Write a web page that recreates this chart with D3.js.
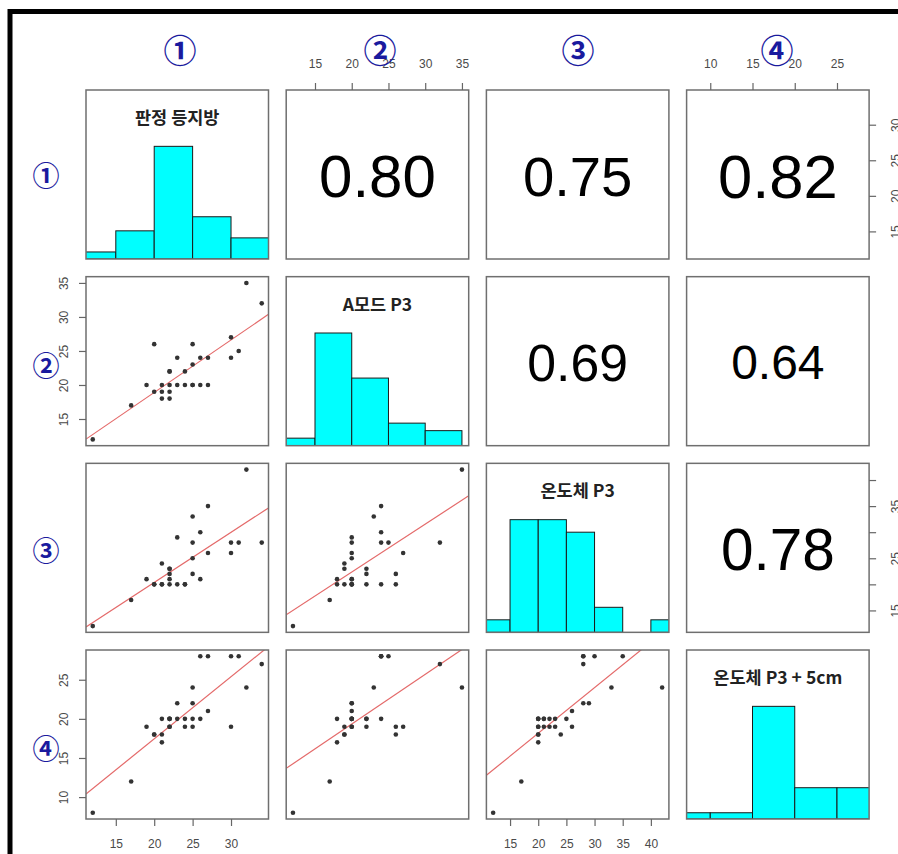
<!DOCTYPE html>
<html>
<head>
<meta charset="utf-8">
<script src="https://cdn.jsdelivr.net/npm/d3@7"></script>
<style>
  body { margin: 0; background: #fff; }
  svg { display: block; }
</style>
</head>
<body>
<svg id="chart" width="898" height="854"></svg>
<script>
// Variable names (diagonal titles) and circled index labels
const varNames = ["판정 등지방", "A모드 P3", "온도체 P3", "온도체 P3 + 5cm"];
const indexLabels = ["①", "②", "③", "④"];

// Observations (30 carcasses), one array per measurement
const fat      = [12,17,32,34,27,25,31,26,30,23,25,27,21,20,21,20,19,21,30,26,23,24,24,25,25,22,22,22,22,22];
const amode    = [12,17,35,32,24,23,25,24,24,20,20,20,18,26,19,19,20,20,27,20,24,22,20,26,20,22,22,20,19,18];
const carcass  = [12,17,42,28,35,33,28,30,28,29,28,26,20,20,24,20,21,20,26,21,20,20,20,22,25,22,23,20,23,21];
const carcass5 = [ 8,12,24,27,28,24,28,28,28,22,22,21,17,18,18,18,19,20,19,20,20,19,20,19,20,20,20,19,19,20];

// Histogram breaks
const fatBreaks      = [10,15,20,25,30,35];
const amodeBreaks    = [10,15,20,25,30,35];
const carcassBreaks  = [10,15,20,25,30,35,40,45];
const carcass5Breaks = [5,10,15,20,25,30];

// Axis tick values
const fatTicks      = [15,20,25,30];
const amodeTicks    = [15,20,25,30,35];
const carcassTicks  = [15,20,25,30,35,40];
const carcass5Ticks = [10,15,20,25];
const carcassSideLabels = [15,25,35];

// Correlation coefficients shown in the upper panels: [row, col, r]
const corrRows = [0,0,0,1,1,2];
const corrCols = [1,2,3,2,3,3];
const corrValues = [0.80,0.75,0.82,0.69,0.64,0.78];

const vars = [fat, amode, carcass, carcass5];
const breaks = [fatBreaks, amodeBreaks, carcassBreaks, carcass5Breaks];
const ticks = [fatTicks, amodeTicks, carcassTicks, carcass5Ticks];

// Layout of the 4x4 grid
const L0 = 86, T0 = 90, PW = 182.5, PH = 169, DX = 200.2, DY = 186.67;
const colX = i => L0 + i * DX;
const rowY = j => T0 + j * DY;

const svg = d3.select("#chart");
const defs = svg.append("defs");

function padded(v) {
  const [a, b] = d3.extent(v);
  const r = b - a;
  return [a - 0.04 * r, b + 0.04 * r];
}
const xs = vars.map((v, i) => d3.scaleLinear().domain(padded(v)).range([colX(i), colX(i) + PW]));
const ys = vars.map((v, j) => d3.scaleLinear().domain(padded(v)).range([rowY(j) + PH, rowY(j)]));

// Outer frame
svg.append("rect")
  .attr("x", 10).attr("y", 11.5)
  .attr("width", 920).attr("height", 900)
  .attr("fill", "none").attr("stroke", "#000").attr("stroke-width", 5);

// Right-closed histogram counts (first bin includes its lower edge)
function histCounts(values, br) {
  return br.slice(0, -1).map((b, k) =>
    values.filter(v => (k === 0 ? v >= b : v > b) && v <= br[k + 1]).length);
}

// Least-squares line y = a + b x
function lsFit(x, y) {
  const mx = d3.mean(x), my = d3.mean(y);
  let sxy = 0, sxx = 0;
  x.forEach((xi, k) => { sxy += (xi - mx) * (y[k] - my); sxx += (xi - mx) ** 2; });
  const b = sxy / sxx;
  return { a: my - b * mx, b };
}

for (let j = 0; j < 4; j++) {
  for (let i = 0; i < 4; i++) {
    const x0 = colX(i), y0 = rowY(j);
    const clipId = `clip-${j}-${i}`;
    defs.append("clipPath").attr("id", clipId)
      .append("rect").attr("x", x0).attr("y", y0).attr("width", PW).attr("height", PH);
    const g = svg.append("g");
    const inner = g.append("g").attr("clip-path", `url(#${clipId})`);

    if (i === j) {
      // Histogram on the diagonal
      const counts = histCounts(vars[i], breaks[i]);
      const maxC = d3.max(counts);
      const yh = d3.scaleLinear().domain([0, 1.5]).range([y0 + PH, y0]);
      const bins = counts.map((c, k) => ({ c, lo: breaks[i][k], hi: breaks[i][k + 1] }));
      inner.selectAll("rect.bar").data(bins).join("rect")
        .attr("class", "bar")
        .attr("x", d => xs[i](d.lo))
        .attr("width", d => xs[i](d.hi) - xs[i](d.lo))
        .attr("y", d => yh(d.c / maxC))
        .attr("height", d => yh(0) - yh(d.c / maxC))
        .attr("fill", "#00ffff")
        .attr("stroke", "#1a1a1a")
        .attr("stroke-width", 1);
      g.append("text")
        .attr("x", x0 + PW / 2).attr("y", y0 + 26.5)
        .attr("text-anchor", "middle").attr("dominant-baseline", "central")
        .attr("font-family", "'Noto Sans CJK KR', sans-serif")
        .attr("font-weight", "bold").attr("font-size", 17.5)
        .attr("fill", "#222")
        .text(varNames[i]);
    } else if (j > i) {
      // Scatter plot with fitted line below the diagonal
      const xv = vars[i], yv = vars[j];
      const fit = lsFit(xv, yv);
      const [d0, d1] = xs[i].domain();
      inner.append("line")
        .attr("x1", xs[i](d0)).attr("y1", ys[j](fit.a + fit.b * d0))
        .attr("x2", xs[i](d1)).attr("y2", ys[j](fit.a + fit.b * d1))
        .attr("stroke", "#e46a6a").attr("stroke-width", 1.2);
      inner.selectAll("circle").data(xv.map((v, k) => [v, yv[k]])).join("circle")
        .attr("cx", d => xs[i](d[0])).attr("cy", d => ys[j](d[1]))
        .attr("r", 2.3).attr("fill", "#333");
    }

    // Panel border
    g.append("rect")
      .attr("x", x0).attr("y", y0).attr("width", PW).attr("height", PH)
      .attr("fill", "none").attr("stroke", "#6f6f6f").attr("stroke-width", 1.5);
  }
}

// Correlation coefficients, sized in proportion to r
corrValues.forEach((r, k) => {
  const j = corrRows[k], i = corrCols[k];
  const fs = 75 * r;
  svg.append("text")
    .attr("x", colX(i) + PW / 2)
    .attr("y", rowY(j) + PH / 2 + 0.716 * fs / 2 + 1)
    .attr("text-anchor", "middle")
    .attr("font-family", "'Liberation Sans', Arial, sans-serif")
    .attr("font-size", fs)
    .attr("fill", "#000")
    .text(r.toFixed(2));
});

// Axes
function styleAxis(sel) {
  sel.select(".domain").remove();
  sel.selectAll(".tick line").attr("stroke", "#666").attr("stroke-width", 1.2);
  sel.selectAll(".tick text")
    .attr("fill", "#4a4a4a")
    .attr("font-family", "'Liberation Sans', Arial, sans-serif")
    .attr("font-size", 12);
}

// top: columns 2 and 4
[1, 3].forEach(i => {
  svg.append("g").attr("transform", `translate(0,${T0})`)
    .call(d3.axisTop(xs[i]).tickValues(ticks[i]).tickSize(7).tickPadding(15).tickFormat(d3.format("d")))
    .call(styleAxis);
});
// bottom: columns 1 and 3
[0, 2].forEach(i => {
  svg.append("g").attr("transform", `translate(0,${rowY(3) + PH})`)
    .call(d3.axisBottom(xs[i]).tickValues(ticks[i]).tickSize(7).tickPadding(13).tickFormat(d3.format("d")))
    .call(styleAxis);
});
// left: rows 2 and 4
[1, 3].forEach(j => {
  svg.append("g").attr("transform", `translate(${L0},0)`)
    .call(d3.axisLeft(ys[j]).tickValues(ticks[j]).tickSize(7).tickFormat(d3.format("d")))
    .call(styleAxis)
    .selectAll(".tick text")
    .attr("transform", "rotate(-90)")
    .attr("x", 0).attr("y", -22).attr("dy", null)
    .attr("text-anchor", "middle").attr("dominant-baseline", "central");
});
// right: rows 1 and 3
[0, 2].forEach(j => {
  const fmt = j === 2 ? (d => carcassSideLabels.includes(d) ? d : "") : d3.format("d");
  svg.append("g").attr("transform", `translate(${colX(3) + PW},0)`)
    .call(d3.axisRight(ys[j]).tickValues(ticks[j]).tickSize(7).tickFormat(fmt))
    .call(styleAxis)
    .selectAll(".tick text")
    .attr("transform", "rotate(-90)")
    .attr("x", 0).attr("y", 27).attr("dy", null)
    .attr("text-anchor", "middle").attr("dominant-baseline", "central");
});

// Circled index labels for columns and rows
const colLabelX = [180, 380, 578, 777];
indexLabels.forEach((t, i) => {
  svg.append("text")
    .attr("x", colLabelX[i]).attr("y", 49)
    .attr("text-anchor", "middle").attr("dominant-baseline", "central")
    .attr("font-family", "'Noto Sans CJK KR', sans-serif")
    .attr("font-weight", "bold")
    .attr("font-size", 33).attr("fill", "#1a1a9e")
    .text(t);
});
const rowLabelY = [174, 364, 549, 747];
indexLabels.forEach((t, j) => {
  svg.append("text")
    .attr("x", 46).attr("y", rowLabelY[j])
    .attr("text-anchor", "middle").attr("dominant-baseline", "central")
    .attr("font-family", "'Noto Sans CJK KR', sans-serif")
    .attr("font-weight", "bold")
    .attr("font-size", 27).attr("fill", "#1a1a9e")
    .text(t);
});
</script>
</body>
</html>
